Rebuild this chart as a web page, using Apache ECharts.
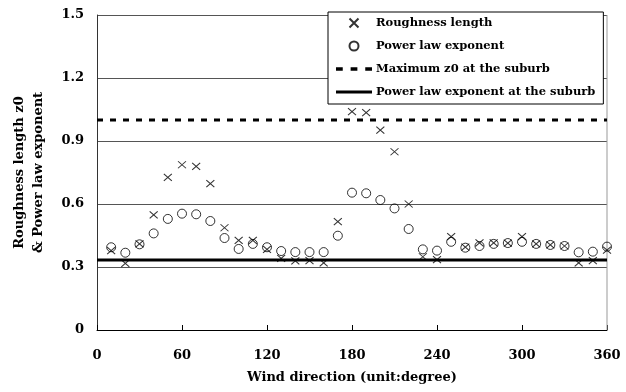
<!DOCTYPE html>
<html>
<head>
<meta charset="utf-8">
<script src="https://cdn.jsdelivr.net/npm/echarts@6/dist/echarts.min.js"></script>
<style>
  html, body { margin: 0; padding: 0; background: #fff; }
  #main { width: 626px; height: 392px; }
</style>
</head>
<body>
<div id="main"></div>
<script>
// wind directions (deg)
const directions = [10, 20, 30, 40, 50, 60, 70, 80, 90, 100, 110, 120, 130, 140, 150, 160, 170, 180,
    190, 200, 210, 220, 230, 240, 250, 260, 270, 280, 290, 300, 310, 320, 330, 340, 350, 360];
const roughness = [0.378, 0.317, 0.41, 0.548, 0.727, 0.787, 0.779, 0.697, 0.487, 0.427, 0.427, 0.384,
    0.341, 0.329, 0.33, 0.32, 0.516, 1.04, 1.035, 0.952, 0.849, 0.6, 0.349, 0.335,
    0.445, 0.395, 0.415, 0.415, 0.414, 0.445, 0.41, 0.405, 0.40, 0.32, 0.33, 0.38];
const exponent = [0.394, 0.368, 0.408, 0.46, 0.529, 0.554, 0.551, 0.519, 0.438, 0.386, 0.41, 0.394,
    0.376, 0.371, 0.371, 0.371, 0.449, 0.654, 0.651, 0.619, 0.579, 0.481, 0.384, 0.378,
    0.42, 0.392, 0.40, 0.41, 0.414, 0.42, 0.41, 0.405, 0.40, 0.37, 0.373, 0.397];
const maxZ0Suburb = 1.0;
const expSuburb = 0.333;
const xRange = [0, 360];

const font = 'DejaVu Serif';
const crossPath = 'path://M0 0L10 10M10 0L0 10';
// legend icons for the two reference lines
const dashIcon = 'path://M0 0H6V3H0ZM13 0H19V3H13ZM26 0H32V3H26Z';
const solidIcon = 'path://M0 0H36V3H0Z';

let option = {
    animation: false,
    backgroundColor: '#fff',
    textStyle: { fontFamily: font, fontWeight: 'bold', color: '#000' },
    grid: { left: 97, right: 19, top: 15, bottom: 62 },
    legend: {
        orient: 'vertical',
        left: 328,
        top: 12,
        padding: [5, 8, 6, 8],
        itemGap: 11,
        itemWidth: 36,
        itemHeight: 9,
        borderColor: '#000',
        borderWidth: 1,
        backgroundColor: '#fff',
        symbolKeepAspect: true,
        textStyle: { fontFamily: font, fontWeight: 'bold', fontSize: 11.5, color: '#000', padding: [0, 0, 0, -1] },
        data: [
            { name: 'Roughness length', icon: crossPath },
            { name: 'Power law exponent', icon: 'circle' },
            { name: 'Maximum z0 at the suburb', icon: dashIcon, itemStyle: { color: '#000', borderWidth: 0 } },
            { name: 'Power law exponent at the suburb', icon: solidIcon, itemStyle: { color: '#000', borderWidth: 0 } }
        ]
    },
    xAxis: {
        type: 'value',
        min: 0, max: 360, interval: 60,
        name: 'Wind direction (unit:degree)',
        nameLocation: 'middle',
        nameGap: 41,
        nameTextStyle: { fontFamily: font, fontWeight: 'bold', fontSize: 13, color: '#000' },
        axisLine: { lineStyle: { color: '#000', width: 1 } },
        axisTick: { inside: true, length: 5, lineStyle: { color: '#000' } },
        axisLabel: { margin: 19, fontFamily: font, fontWeight: 'bold', fontSize: 13, color: '#000' },
        splitLine: { show: false }
    },
    yAxis: {
        type: 'value',
        min: 0, max: 1.5, interval: 0.3,
        name: 'Roughness length z0\n& Power law exponent',
        nameLocation: 'middle',
        nameGap: 49,
        nameRotate: 90,
        nameTextStyle: { fontFamily: font, fontWeight: 'bold', fontSize: 13, color: '#000', lineHeight: 19 },
        axisLine: { show: true, lineStyle: { color: '#333', width: 1 } },
        axisTick: { show: false },
        axisLabel: {
            margin: 13, fontFamily: font, fontWeight: 'bold', fontSize: 13, color: '#000',
            formatter: v => (v === 0 ? '0' : v.toFixed(1))
        },
        splitLine: { show: true, lineStyle: { color: '#555', width: 1 } }
    },
    series: [
        {
            name: 'Maximum z0 at the suburb',
            type: 'line',
            symbol: 'none',
            data: xRange.map(x => [x, maxZ0Suburb]),
            itemStyle: { color: '#000' },
            lineStyle: { color: '#000', width: 3, type: [6, 7] },
            z: 2
        },
        {
            name: 'Power law exponent at the suburb',
            type: 'line',
            symbol: 'none',
            data: xRange.map(x => [x, expSuburb]),
            itemStyle: { color: '#000' },
            lineStyle: { color: '#000', width: 3, type: 'solid' },
            z: 2
        },
        {
            name: 'Roughness length',
            type: 'scatter',
            symbol: crossPath,
            symbolSize: [8, 7],
            data: directions.map((d, i) => [d, roughness[i]]),
            itemStyle: { color: 'transparent', borderColor: '#000', borderWidth: 1 },
            z: 3
        },
        {
            name: 'Power law exponent',
            type: 'scatter',
            symbol: 'circle',
            symbolSize: 9,
            data: directions.map((d, i) => [d, exponent[i]]),
            itemStyle: { color: 'transparent', borderColor: '#000', borderWidth: 1 },
            z: 3
        }
    ]
};

const myChart = echarts.init(document.getElementById('main'));
myChart.setOption(option);

// right border of the plot area (Excel style)
const rb = myChart.convertToPixel({ gridIndex: 0 }, [360, 1.5]);
const rb0 = myChart.convertToPixel({ gridIndex: 0 }, [360, 0]);
myChart.setOption({
    graphic: [{
        type: 'line',
        shape: { x1: rb[0], y1: rb[1], x2: rb0[0], y2: rb0[1] },
        style: { stroke: '#999', lineWidth: 1 },
        z: 1
    }]
});
</script>
</body>
</html>
